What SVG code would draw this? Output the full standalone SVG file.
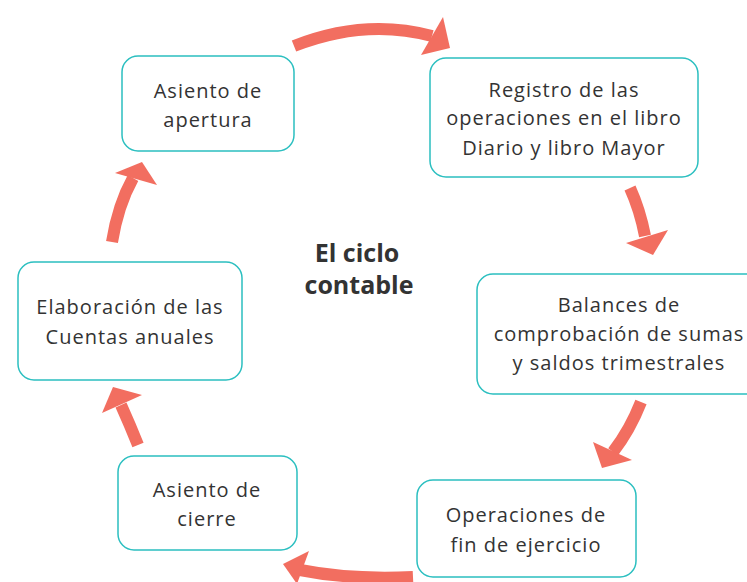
<svg xmlns="http://www.w3.org/2000/svg" width="747" height="582" viewBox="0 0 747 582">
<style>
.box{fill:#fff;stroke:#2bbfc0;stroke-width:1.5}
.t{font-family:"Open Sans","Noto Sans",sans-serif;font-size:20px;letter-spacing:1px;fill:#333;text-anchor:middle}
.title{font-family:"Open Sans","Noto Sans",sans-serif;font-size:25px;font-weight:bold;fill:#333;text-anchor:middle}
.body{fill:none;stroke:#f26e60;stroke-width:12}
.head{fill:#f26e60}
</style>
<rect width="747" height="582" fill="#fff"/>
<g id="connectors">
<path class="body" d="M294,46 Q365,18 432,36"/>
<polygon class="head" points="443,17 450,48 421,55"/>
<path class="body" d="M630,188 Q640,210 645,236"/>
<polygon class="head" points="626,243 668,230 653,255"/>
<path class="body" d="M641,402 Q630,430 613,452"/>
<polygon class="head" points="593,442 632,460 602,468"/>
<path class="body" d="M413,577 Q350,580 300,570"/>
<polygon class="head" points="309,551 283,564 297,584"/>
<path class="body" d="M138,445 Q130,425 121,405"/>
<polygon class="head" points="113,387 102,413 142,395"/>
<path class="body" d="M112,242 Q118,205 133,178"/>
<polygon class="head" points="115,173 142,162 157,185"/>
</g>
<g id="title">
<text class="title" x="357" y="262">El ciclo</text>
<text class="title" x="359" y="294">contable</text>
</g>
<g id="n-apertura">
<rect class="box" x="122" y="56" width="172" height="95" rx="16"/>
<text class="t" x="208" y="98">Asiento de</text>
<text class="t" x="208" y="127">apertura</text>
</g>
<g id="n-registro">
<rect class="box" x="430" y="58" width="268" height="119" rx="16"/>
<text class="t" x="564" y="97">Registro de las</text>
<text class="t" x="564" y="125">operaciones en el libro</text>
<text class="t" x="564" y="155">Diario y libro Mayor</text>
</g>
<g id="n-balances">
<rect class="box" x="477" y="274" width="290" height="120" rx="16"/>
<text class="t" x="619" y="312">Balances de</text>
<text class="t" x="619" y="341">comprobación de sumas</text>
<text class="t" x="619" y="370">y saldos trimestrales</text>
</g>
<g id="n-operaciones">
<rect class="box" x="417" y="480" width="219" height="97" rx="16"/>
<text class="t" x="526" y="522">Operaciones de</text>
<text class="t" x="526" y="552">fin de ejercicio</text>
</g>
<g id="n-cierre">
<rect class="box" x="118" y="456" width="179" height="94" rx="16"/>
<text class="t" x="207" y="497">Asiento de</text>
<text class="t" x="207" y="526">cierre</text>
</g>
<g id="n-elaboracion">
<rect class="box" x="18" y="262" width="224" height="118" rx="16"/>
<text class="t" x="130" y="314">Elaboración de las</text>
<text class="t" x="130" y="344">Cuentas anuales</text>
</g>
</svg>
